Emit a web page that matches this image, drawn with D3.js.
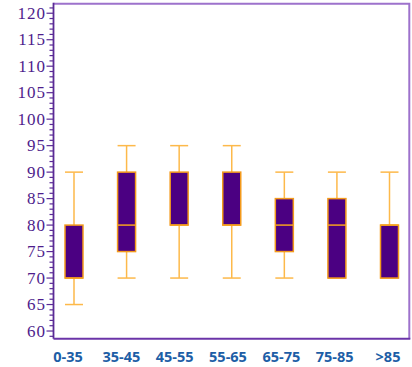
<!DOCTYPE html>
<html><head><meta charset="utf-8">
<script src="https://cdn.jsdelivr.net/npm/d3@7"></script>
<style>body{margin:0;background:#fff}svg{display:block}
.yl{font-family:"Liberation Serif","Times New Roman",Times,serif;}
.xl{font-family:"Open Sans",sans-serif;font-weight:700;}
</style>
</head><body>
<svg id="c" width="412" height="367"></svg>
<script>
const categories = ["0-35","35-45","45-55","55-65","65-75","75-85",">85"];
const mins    = [65, 70, 70, 70, 70, 70, 70];
const q1s     = [70, 75, 80, 80, 75, 70, 70];
const medians = [70, 80, 80, 80, 80, 80, 80];
const q3s     = [80, 90, 90, 90, 85, 85, 80];
const maxs    = [90, 95, 95, 95, 90, 90, 90];
const yTicks  = [60,65,70,75,80,85,90,95,100,105,110,115,120];

const svg = d3.select("#c");
const L = 53.5, R = 409.3, T = 3.7, B = 338.7;
const y = d3.scaleLinear().domain([58.55, 121.8]).range([B, T]);
const x = d3.scalePoint().domain(categories).range([74, 389.5]);
const xl = d3.scalePoint().domain(categories).range([68, 388]);
const bw = 18;

svg.append("path").attr("d", `M${L},${T}H${R}V${B}`).attr("fill","none")
  .attr("stroke","#9d72cc").attr("stroke-width",2);

const minor = d3.range(59, 122);
svg.append("g").selectAll("line").data(minor).join("line")
  .attr("x1", d => d % 5 === 0 ? L-7 : L-4).attr("x2", L)
  .attr("y1", d => y(d)).attr("y2", d => y(d))
  .attr("stroke","#5a2a96").attr("stroke-width",1.2);

svg.append("g").selectAll("text").data(yTicks).join("text")
  .attr("class","yl")
  .attr("x", 46).attr("y", d => y(d)).attr("dy","0.33em")
  .attr("text-anchor","end")
  .attr("font-size",17)
  .attr("letter-spacing","1px")
  .attr("fill","#4e1d8c").text(d => d);

svg.append("line").attr("x1",L).attr("x2",L).attr("y1",T-1).attr("y2",B)
  .attr("stroke","#5a2a96").attr("stroke-width",1.8);
svg.append("line").attr("x1",L).attr("x2",R+1).attr("y1",B).attr("y2",B)
  .attr("stroke","#6b34a8").attr("stroke-width",2);

const data = categories.map((c,i)=>({c, mn:mins[i], q1:q1s[i], md:medians[i], q3:q3s[i], mx:maxs[i]}));
const g = svg.append("g").selectAll("g").data(data).join("g");
const wc = "#fdb94a";
g.append("line").attr("x1",d=>x(d.c)).attr("x2",d=>x(d.c))
  .attr("y1",d=>y(d.mx)).attr("y2",d=>y(d.q3)).attr("stroke",wc).attr("stroke-width",1.5);
g.append("line").attr("x1",d=>x(d.c)).attr("x2",d=>x(d.c))
  .attr("y1",d=>y(d.q1)).attr("y2",d=>y(d.mn)).attr("stroke",wc).attr("stroke-width",1.5);
g.append("line").attr("x1",d=>x(d.c)-bw/2).attr("x2",d=>x(d.c)+bw/2)
  .attr("y1",d=>y(d.mx)).attr("y2",d=>y(d.mx)).attr("stroke",wc).attr("stroke-width",1.5);
g.append("line").attr("x1",d=>x(d.c)-bw/2).attr("x2",d=>x(d.c)+bw/2)
  .attr("y1",d=>y(d.mn)).attr("y2",d=>y(d.mn)).attr("stroke",wc).attr("stroke-width",1.5);
g.append("rect").attr("x",d=>x(d.c)-bw/2).attr("width",bw)
  .attr("y",d=>y(d.q3)).attr("height",d=>y(d.q1)-y(d.q3))
  .attr("fill","#4b0082").attr("stroke","#f39a1c").attr("stroke-width",1.5);
g.append("line").attr("x1",d=>x(d.c)-bw/2).attr("x2",d=>x(d.c)+bw/2)
  .attr("y1",d=>y(d.md)).attr("y2",d=>y(d.md)).attr("stroke","#f7a21e").attr("stroke-width",1.5);

svg.append("g").selectAll("text").data(categories).join("text")
  .attr("class","xl")
  .attr("x", d => xl(d)).attr("y", 357).attr("dy","0.35em")
  .attr("text-anchor","middle")
  .attr("font-size",14.5)
  .attr("fill","#1d5ea6").text(d => d);
</script>
</body></html>
